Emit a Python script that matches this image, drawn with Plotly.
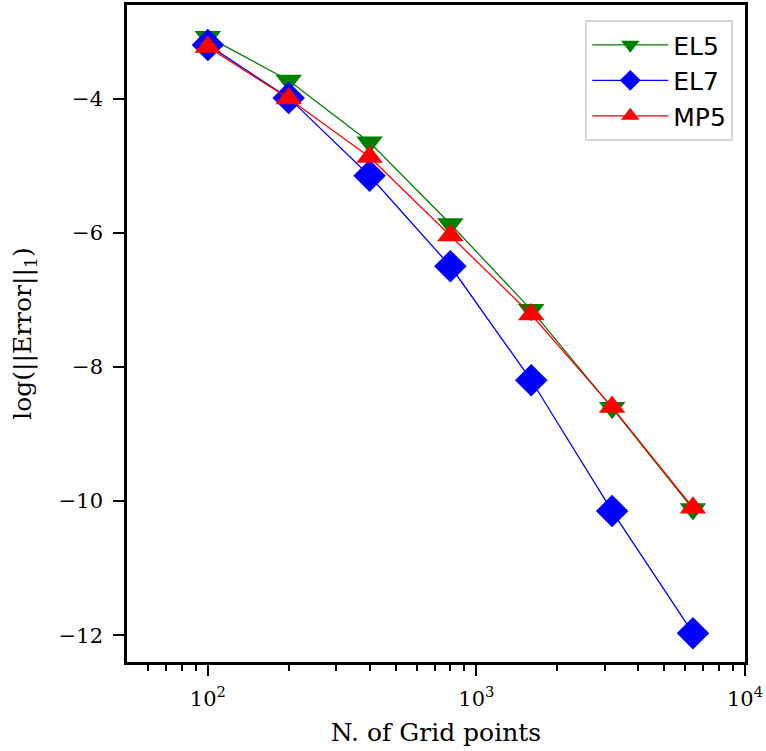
import plotly.graph_objects as go

# Grid sizes and log10 of the L1 error for each scheme
grid_points = [100, 200, 400, 800, 1600, 3200, 6400]
el5_err = [-3.08, -3.73, -4.65, -5.87, -7.15, -8.61, -10.12]
el7_err = [-3.20, -3.99, -5.15, -6.50, -8.20, -10.15, -11.97]
mp5_err = [-3.23, -4.00, -4.87, -6.04, -7.22, -8.60, -10.10]

x_major = [100, 1000, 10000]
x_major_text = ["10<sup>2</sup>", "10<sup>3</sup>", "10<sup>4</sup>"]
x_minor = [60, 70, 80, 90, 200, 300, 400, 500, 600, 700, 800, 900,
           2000, 3000, 4000, 5000, 6000, 7000, 8000, 9000]
y_ticks = [-4, -6, -8, -10, -12]
y_text = ["\u22124", "\u22126", "\u22128", "\u221210", "\u221212"]

serif = "DejaVu Serif"

fig = go.Figure()
fig.add_trace(go.Scatter(
    x=grid_points, y=el5_err, name="EL5", mode="lines+markers",
    line=dict(color="green", width=1.3),
    marker=dict(symbol="triangle-down", size=23, color="green"),
))
fig.add_trace(go.Scatter(
    x=grid_points, y=el7_err, name="EL7", mode="lines+markers",
    line=dict(color="blue", width=1.3),
    marker=dict(symbol="diamond", size=25, color="blue"),
))
fig.add_trace(go.Scatter(
    x=grid_points, y=mp5_err, name="MP5", mode="lines+markers",
    line=dict(color="red", width=1.3),
    marker=dict(symbol="triangle-up", size=23, color="red"),
))

fig.update_layout(
    width=766, height=751,
    margin=dict(l=127, r=21, t=2, b=89),
    paper_bgcolor="white", plot_bgcolor="white",
    font=dict(family=serif, size=21, color="black"),
    showlegend=True,
    legend=dict(
        x=0.981, y=0.977, xanchor="right", yanchor="top",
        bgcolor="white", bordercolor="#d6d6d6", borderwidth=2,
        font=dict(family="DejaVu Sans", size=25, color="black"),
        itemwidth=76, entrywidth=146, entrywidthmode="pixels",
    ),
    xaxis=dict(
        type="log", range=[1.69897, 4],
        tickmode="array", tickvals=x_major, ticktext=x_major_text,
        ticks="outside", ticklen=11, tickwidth=2, tickcolor="black",
        ticklabelstandoff=5,
        minor=dict(tickmode="array", tickvals=x_minor, ticks="outside",
                   ticklen=6, tickwidth=1.5, tickcolor="black"),
        showline=True, linecolor="black", linewidth=2.5, mirror=True,
        showgrid=False, zeroline=False,
        tickfont=dict(family=serif, size=21),
        title=dict(text="N. of Grid points", font=dict(family=serif, size=25), standoff=14),
    ),
    yaxis=dict(
        range=[-12.40, -2.605],
        tickmode="array", tickvals=y_ticks, ticktext=y_text,
        ticks="outside", ticklen=11, tickwidth=2, tickcolor="black",
        ticklabelstandoff=6,
        showline=True, linecolor="black", linewidth=2.5, mirror=True,
        showgrid=False, zeroline=False,
        tickfont=dict(family=serif, size=21),
        title=dict(text="log(||Error||<sub>1</sub>)", font=dict(family=serif, size=25), standoff=20),
    ),
)

fig.write_html("out.html")
